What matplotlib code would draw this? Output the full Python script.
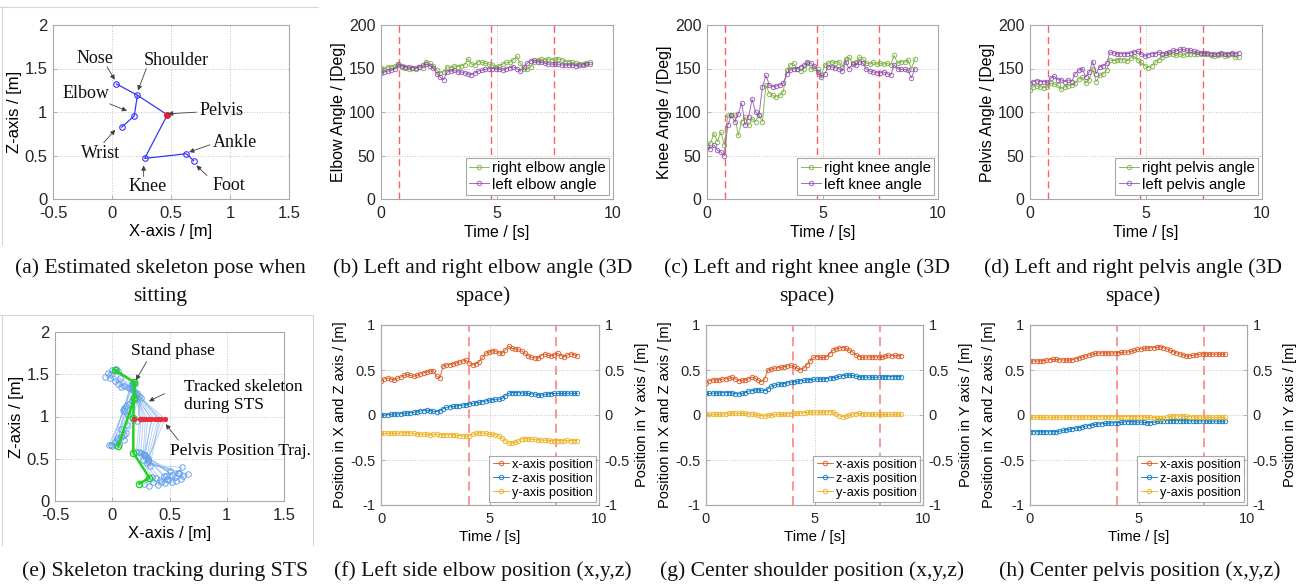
import numpy as np
import matplotlib
matplotlib.use('Agg')
import matplotlib.pyplot as plt
from matplotlib.ticker import FormatStrFormatter
from matplotlib.lines import Line2D

plt.rcParams['font.family'] = ['Liberation Sans', 'DejaVu Sans']
plt.rcParams['axes.unicode_minus'] = False
SERIF = 'Liberation Serif'

# ---------------- data ----------------
DT = 0.15  # sampling step of the time series [s]

# (a) sitting skeleton joints (x, z)
joint_names = ['Nose', 'Shoulder', 'Elbow', 'Wrist', 'Pelvis', 'Knee', 'Ankle', 'Foot']
sit_x = [0.037, 0.215, 0.189, 0.082, 0.469, 0.277, 0.630, 0.692]
sit_z = [1.323, 1.193, 0.956, 0.826, 0.967, 0.467, 0.520, 0.440]
ann_text_x = [-0.147, 0.545, -0.22, 0.93, -0.10, 1.04, 0.30, 0.99]
ann_text_z = [1.61, 1.59, 1.21, 1.02, 0.52, 0.65, 0.14, 0.16]
ann_tail_x = [-0.042, 0.291, -0.02, 0.715, -0.07, 0.83, 0.268, 0.805]
ann_tail_z = [1.52, 1.50, 1.094, 0.998, 0.65, 0.623, 0.26, 0.27]
ann_tip_x = [0.023, 0.22, 0.127, 0.475, 0.028, 0.653, 0.268, 0.715]
ann_tip_z = [1.37, 1.247, 1.013, 0.979, 0.795, 0.539, 0.386, 0.386]
ann_order = ['Nose', 'Shoulder', 'Elbow', 'Pelvis', 'Wrist', 'Ankle', 'Knee', 'Foot']

# (e) tracked skeleton frames during STS (one value per frame)
nose_x = [0.10, 0.08, 0.05, 0.02, -0.02, -0.06, -0.04, 0.00, 0.03, 0.05, 0.07, -0.01]
nose_z = [1.36, 1.35, 1.38, 1.42, 1.46, 1.47, 1.52, 1.55, 1.56, 1.54, 1.45, 1.50]
shoulder_x = [0.25, 0.23, 0.21, 0.19, 0.17, 0.16, 0.17, 0.18, 0.19, 0.20, 0.22, 0.15]
shoulder_z = [1.22, 1.24, 1.27, 1.30, 1.33, 1.36, 1.38, 1.40, 1.40, 1.39, 1.28, 1.34]
elbow_x = [0.22, 0.18, 0.14, 0.10, 0.09, 0.10, 0.12, 0.15, 0.17, 0.19, 0.13, 0.08]
elbow_z = [0.95, 0.98, 1.02, 1.06, 1.08, 1.10, 1.12, 1.15, 1.18, 1.20, 0.90, 0.85]
wrist_x = [0.12, 0.10, 0.08, 0.05, 0.02, -0.01, -0.03, 0.00, 0.03, 0.06, 0.10, 0.04]
wrist_z = [0.80, 0.78, 0.76, 0.72, 0.70, 0.66, 0.66, 0.65, 0.66, 0.68, 0.72, 0.74]
pelvis_x = [0.46, 0.43, 0.40, 0.37, 0.34, 0.31, 0.29, 0.27, 0.25, 0.24, 0.41, 0.35]
pelvis_z = [0.97, 0.97, 0.97, 0.97, 0.97, 0.97, 0.97, 0.97, 0.97, 0.97, 0.97, 0.97]
knee_x = [0.30, 0.31, 0.31, 0.30, 0.29, 0.28, 0.27, 0.25, 0.23, 0.21, 0.33, 0.27]
knee_z = [0.45, 0.47, 0.50, 0.52, 0.54, 0.55, 0.56, 0.57, 0.58, 0.58, 0.42, 0.49]
ankle_x = [0.66, 0.62, 0.58, 0.55, 0.52, 0.48, 0.45, 0.42, 0.38, 0.35, 0.61, 0.50]
ankle_z = [0.32, 0.30, 0.33, 0.28, 0.31, 0.26, 0.29, 0.25, 0.27, 0.28, 0.40, 0.35]
foot_x = [0.60, 0.56, 0.52, 0.49, 0.46, 0.43, 0.40, 0.36, 0.32, 0.28, 0.57, 0.47]
foot_z = [0.26, 0.24, 0.22, 0.25, 0.21, 0.23, 0.19, 0.22, 0.18, 0.20, 0.33, 0.29]
# stand phase skeleton (nose, shoulder, elbow, wrist, pelvis, knee, ankle, foot)
stand_x = [0.024, 0.193, 0.193, 0.053, 0.184, 0.184, 0.324, 0.236]
stand_z = [1.55, 1.405, 1.215, 0.655, 0.98, 0.57, 0.275, 0.205]
pelvis_traj_x = [0.186, 0.24, 0.25, 0.26, 0.27, 0.29, 0.31, 0.34, 0.37, 0.40, 0.43, 0.46]
pelvis_traj_z = [0.97, 0.97, 0.97, 0.97, 0.97, 0.97, 0.97, 0.97, 0.97, 0.97, 0.97, 0.97]

# (b) elbow angles [deg]
elbow_right = [151, 150, 152, 152, 153, 154, 152, 151, 150, 151,
               150, 152, 151, 158, 156, 153, 148, 145, 146, 152,
               151, 153, 152, 153, 154, 161, 155, 154, 158, 157,
               156, 155, 154, 152, 153, 155, 157, 157, 160, 164,
               156, 150, 149, 152, 158, 160, 161, 160, 161, 160,
               161, 161, 160, 158, 158, 157, 156, 155, 155, 156, 157]
elbow_left = [145, 146, 147, 148, 150, 155, 153, 152, 152, 151,
              151, 152, 154, 155, 153, 151, 144, 140, 137, 146,
              147, 148, 146, 146, 145, 144, 143, 145, 147, 148,
              149, 150, 150, 150, 149, 148, 150, 151, 152, 150,
              147, 152, 156, 159, 160, 158, 157, 156, 155, 155,
              155, 155, 154, 154, 154, 154, 153, 154, 154, 155, 155]
# (c) knee angles [deg]
knee_right = [62, 64, 75, 66, 77, 62, 96, 97, 96, 73,
              89, 94, 85, 92, 89, 96, 89, 131, 121, 119,
              117, 119, 123, 148, 154, 156, 150, 147, 150, 156,
              150, 151, 149, 142, 154, 156, 158, 156, 158, 152,
              161, 163, 156, 158, 163, 161, 156, 155, 157, 155,
              156, 155, 156, 154, 165, 156, 158, 157, 160, 150, 161]
knee_left = [60, 58, 62, 56, 54, 50, 85, 96, 89, 98,
             110, 85, 94, 115, 100, 96, 129, 142, 131, 129,
             130, 131, 133, 144, 148, 150, 150, 152, 154, 157,
             156, 153, 146, 140, 144, 152, 152, 151, 150, 147,
             158, 150, 155, 154, 158, 156, 149, 147, 146, 145,
             145, 146, 144, 142, 154, 150, 149, 149, 148, 139, 150]
# (d) pelvis angles [deg]
pelvis_right = [125, 129, 130, 129, 128, 129, 133, 132, 131, 126,
                129, 130, 131, 133, 138, 140, 133, 137, 150, 135,
                142, 144, 148, 160, 159, 160, 160, 160, 159, 162,
                164, 160, 157, 153, 151, 153, 157, 160, 163, 165,
                167, 167, 165, 167, 165, 167, 167, 167, 167, 167,
                167, 167, 165, 164, 165, 167, 164, 165, 167, 163, 163]
pelvis_left = [133, 135, 136, 135, 135, 134, 139, 141, 137, 137,
               135, 137, 135, 144, 148, 150, 140, 146, 158, 144,
               152, 153, 156, 169, 168, 167, 167, 167, 167, 168,
               169, 170, 167, 164, 166, 167, 167, 169, 167, 168,
               169, 171, 170, 172, 172, 171, 171, 170, 169, 168,
               168, 168, 167, 167, 167, 168, 167, 167, 168, 167, 168]

# (f) left side elbow position [m]
f_x = [.38, .40, .41, .40, .39, .41, .42, .44, .455, .44,
       .43, .44, .455, .47, .48, .49, .49, .43, .41, .55,
       .555, .56, .57, .58, .59, .60, .61, .58, .555, .57,
       .59, .64, .685, .70, .715, .71, .69, .685, .72, .765,
       .74, .735, .73, .71, .685, .66, .64, .635, .63, .66,
       .68, .665, .655, .67, .685, .66, .65, .665, .68, .67, .66]
f_z = [0.0, 0.0, .005, .008, .01, .012, .015, .02, .022, .025,
       .03, .035, .045, .05, .055, .05, .04, .037, .05, .07,
       .085, .09, .095, .10, .105, .11, .115, .12, .13, .135,
       .14, .15, .155, .165, .17, .175, .175, .185, .215, .24,
       .25, .25, .248, .245, .242, .24, .235, .232, .225, .22,
       .228, .235, .238, .24, .24, .24, .24, .242, .242, .24, .24]
f_y = [-.205, -.205, -.205, -.20, -.205, -.205, -.20, -.198, -.196, -.20,
       -.205, -.21, -.212, -.215, -.215, -.22, -.215, -.215, -.22, -.22,
       -.22, -.218, -.22, -.225, -.228, -.23, -.233, -.228, -.215, -.205,
       -.196, -.20, -.205, -.21, -.215, -.22, -.23, -.255, -.285, -.31,
       -.31, -.30, -.29, -.265, -.262, -.265, -.27, -.272, -.275, -.278,
       -.28, -.282, -.284, -.285, -.285, -.285, -.284, -.283, -.284, -.285, -.285]
# (g) center shoulder position [m]
g_x = [.36, .38, .39, .39, .39, .40, .40, .41, .42, .40,
       .38, .385, .39, .40, .42, .41, .39, .37, .40, .50,
       .51, .52, .525, .53, .537, .545, .555, .54, .52, .50,
       .52, .56, .60, .64, .65, .64, .64, .645, .68, .72,
       .735, .745, .75, .74, .72, .70, .67, .65, .64, .642,
       .645, .645, .648, .645, .64, .655, .665, .66, .662, .66, .66]
g_z = [.24, .24, .242, .245, .245, .248, .248, .25, .245, .238,
       .233, .24, .25, .265, .27, .278, .28, .275, .272, .29,
       .32, .33, .34, .345, .35, .358, .365, .37, .375, .38,
       .385, .39, .393, .396, .398, .40, .40, .405, .41, .415,
       .42, .43, .438, .444, .442, .44, .432, .426, .424, .422,
       .42, .42, .42, .42, .422, .424, .426, .426, .426, .426, .426]
g_y = [.007, .007, .008, .008, .01, .01, .012, .018, .02, .018,
       .018, .018, .018, .015, .012, .008, .0, -.008, -.012, -.005,
       .004, .006, .008, .008, .01, .012, .016, .018, .02, .024,
       .026, .028, .03, .03, .03, .032, .034, .035, .037, .035,
       .01, -.012, -.018, -.012, -.002, .01, .016, .018, .014, .012,
       .01, .008, .008, .006, .006, .006, .006, .007, .007, .007, .007]
# (h) center pelvis position [m]
h_x = [.60, .60, .60, .60, .605, .61, .615, .618, .618, .615,
       .612, .61, .61, .615, .625, .635, .645, .655, .665, .675,
       .685, .688, .69, .69, .69, .688, .69, .692, .695, .698,
       .70, .708, .718, .728, .735, .74, .745, .748, .75, .755,
       .76, .75, .735, .72, .705, .69, .68, .668, .658, .655,
       .662, .67, .675, .68, .678, .676, .676, .677, .676, .675, .674]
h_z = [-.185, -.185, -.186, -.186, -.186, -.186, -.186, -.185, -.185, -.18,
       -.172, -.165, -.158, -.152, -.146, -.14, -.132, -.125, -.118, -.11,
       -.104, -.10, -.097, -.094, -.091, -.088, -.086, -.084, -.08, -.076,
       -.074, -.074, -.076, -.078, -.08, -.082, -.085, -.085, -.08, -.072,
       -.065, -.063, -.062, -.062, -.062, -.063, -.063, -.063, -.064, -.064,
       -.065, -.065, -.066, -.066, -.066, -.067, -.067, -.067, -.067, -.067, -.067]
h_y = [-.026, -.026, -.026, -.026, -.026, -.025, -.025, -.025, -.024, -.024,
       -.024, -.024, -.024, -.023, -.023, -.022, -.022, -.022, -.021, -.021,
       -.021, -.02, -.02, -.02, -.019, -.019, -.018, -.018, -.018, -.018,
       -.018, -.018, -.019, -.02, -.021, -.022, -.024, -.026, -.03, -.036,
       -.037, -.032, -.024, -.016, -.012, -.01, -.012, -.014, -.016, -.018,
       -.02, -.021, -.022, -.023, -.024, -.025, -.025, -.026, -.026, -.026, -.026]

phase_top = [0.78, 4.75, 7.45]
phase_bottom = [4.02, 8.03]

# ---------------- layout helpers ----------------
W, H = 1303, 585
fig = plt.figure(figsize=(W / 100, H / 100), dpi=100)


def add_ax(l, t, r, b):
    return fig.add_axes([l / W, 1 - b / H, (r - l) / W, (b - t) / H])


SPINE = '#a8a8a8'


def style(ax, fs):
    for s in ax.spines.values():
        s.set_color(SPINE)
        s.set_linewidth(0.8)
    ax.tick_params(direction='in', length=3, width=0.6, color=SPINE,
                   labelsize=fs, labelcolor='#262626')
    ax.tick_params(axis='x', pad=5)
    ax.tick_params(axis='y', pad=4)
    ax.grid(True, linestyle=':', color='#c4c4c4', linewidth=0.7)
    ax.set_axisbelow(True)
    ax.xaxis.set_major_formatter(FormatStrFormatter('%g'))
    ax.yaxis.set_major_formatter(FormatStrFormatter('%g'))


def tt(y):
    return np.arange(len(y)) * DT


def legend(ax, fs):
    lg = ax.legend(loc='lower right', fontsize=fs, frameon=True, fancybox=False,
                   edgecolor=SPINE, framealpha=1, borderpad=0.25, handlelength=1.3,
                   handletextpad=0.2, labelspacing=0.15, borderaxespad=0.25)
    lg.get_frame().set_linewidth(0.8)
    return lg


# frames around (a) and (e)
FR = '#d6d6d6'
fig.add_artist(Line2D([0, 318 / W], [1 - 7 / H] * 2, color=FR, lw=0.8))
fig.add_artist(Line2D([2 / W] * 2, [1 - 7 / H, 1 - 245 / H], color=FR, lw=0.8))
fig.add_artist(Line2D([0, 313 / W], [1 - 315 / H] * 2, color=FR, lw=0.8))
fig.add_artist(Line2D([2 / W] * 2, [1 - 315 / H, 1 - 545 / H], color=FR, lw=0.8))
fig.add_artist(Line2D([313 / W] * 2, [1 - 315 / H, 1 - 545 / H], color=FR, lw=0.8))

# ---------------- (a) ----------------
ax = add_ax(53, 25, 289, 199)
style(ax, 12)
ax.set_xlim(-0.5, 1.5)
ax.set_ylim(0, 2)
ax.set_xticks([-0.5, 0, 0.5, 1, 1.5])
ax.set_yticks([0, 0.5, 1, 1.5, 2])
J = dict(zip(joint_names, zip(sit_x, sit_z)))
chains = [['Nose', 'Shoulder', 'Pelvis', 'Knee', 'Ankle', 'Foot'], ['Shoulder', 'Elbow', 'Wrist']]
for ch in chains:
    ax.plot([J[n][0] for n in ch], [J[n][1] for n in ch], '-', color='#3535ff', lw=0.9)
others = [n for n in joint_names if n != 'Pelvis']
ax.plot([J[n][0] for n in others], [J[n][1] for n in others], 'o', ls='none',
        mfc='none', mec='#3535ff', ms=4, mew=0.8)
ax.plot([J['Pelvis'][0]], [J['Pelvis'][1]], 'o', color='#e0202a', ms=4)
for i, name in enumerate(ann_order):
    ax.text(ann_text_x[i], ann_text_z[i], name, fontfamily=SERIF, fontsize=13,
            ha='center', va='center', color='#111111')
    ax.annotate('', xy=(ann_tip_x[i], ann_tip_z[i]), xytext=(ann_tail_x[i], ann_tail_z[i]),
                arrowprops=dict(arrowstyle='-|>', color='#404040', lw=0.6,
                                mutation_scale=7, shrinkA=0, shrinkB=0))
ax.set_xlabel('X-axis / [m]', fontsize=12, labelpad=2)
ax.set_ylabel('Z-axis / [m]', fontsize=12, labelpad=2)

# ---------------- (b)-(d) ----------------
GREEN = '#7cb342'
PURPLE = '#8e44ad'
top_specs = [
    ((381, 25, 613, 199), elbow_right, elbow_left, 'Elbow Angle / [Deg]',
     'right elbow angle', 'left elbow angle'),
    ((707, 25, 938, 199), knee_right, knee_left, 'Knee Angle / [Deg]',
     'right knee angle', 'left knee angle'),
    ((1030, 25, 1262, 199), pelvis_right, pelvis_left, 'Pelvis Angle / [Deg]',
     'right pelvis angle', 'left pelvis angle'),
]
for box, yr, yl, ylab, lr, ll in top_specs:
    ax = add_ax(*box)
    style(ax, 11.5)
    ax.set_xlim(0, 10)
    ax.set_ylim(0, 200)
    ax.set_xticks([0, 5, 10])
    ax.set_yticks([0, 50, 100, 150, 200])
    for xv in phase_top:
        ax.axvline(xv, color='#ff4d4d', lw=1.0, ls=(0, (5, 3)), alpha=0.9)
    ax.plot(tt(yr), yr, '-o', color=GREEN, mfc='none', ms=3.2, mew=0.7, lw=0.7, label=lr, alpha=0.9)
    ax.plot(tt(yl), yl, '-o', color=PURPLE, mfc='none', ms=3.2, mew=0.7, lw=0.7, label=ll, alpha=0.8)
    ax.set_xlabel('Time / [s]', fontsize=11.5, labelpad=3)
    ax.set_ylabel(ylab, fontsize=11.5, labelpad=2)
    legend(ax, 10.8)

# ---------------- (e) ----------------
ax = add_ax(55, 332, 284, 501)
style(ax, 12)
ax.set_xlim(-0.5, 1.5)
ax.set_ylim(0, 2)
ax.set_xticks([-0.5, 0, 0.5, 1, 1.5])
ax.set_yticks([0, 0.5, 1, 1.5, 2])
frames = list(zip(nose_x, nose_z, shoulder_x, shoulder_z, elbow_x, elbow_z, wrist_x, wrist_z,
                  pelvis_x, pelvis_z, knee_x, knee_z, ankle_x, ankle_z, foot_x, foot_z))
BLUE_L = '#5b9bea'
for fr in frames:
    px = fr[0::2]
    pz = fr[1::2]
    # order: 0 nose 1 shoulder 2 elbow 3 wrist 4 pelvis 5 knee 6 ankle 7 foot
    for ch in ([0, 1, 4, 5, 6, 7], [1, 2, 3]):
        ax.plot([px[k] for k in ch], [pz[k] for k in ch], '-', color=BLUE_L, lw=0.6, alpha=0.5)
    idx = [0, 1, 2, 3, 5, 6, 7]
    ax.plot([px[k] for k in idx], [pz[k] for k in idx], 'o', ls='none', mfc='none',
            mec=BLUE_L, ms=4, mew=0.7, alpha=0.9)
for ch in ([0, 1, 4, 5, 6, 7], [1, 2, 3]):
    ax.plot([stand_x[k] for k in ch], [stand_z[k] for k in ch], '-', color='#1fd21f', lw=1.8)
ax.plot(stand_x, stand_z, 'o', ls='none', mfc='none', mec='#1fd21f', ms=4.5, mew=1.0)
ax.plot(pelvis_traj_x, pelvis_traj_z, '-o', color='#e8303a', ms=2.8, lw=0.7)
AP = dict(arrowstyle='-|>', color='#404040', lw=0.6, mutation_scale=7, shrinkA=0, shrinkB=0)
ax.text(0.53, 1.77, 'Stand phase', fontfamily=SERIF, fontsize=12.5, ha='center', va='center')
ax.annotate('', xy=(0.207, 1.43), xytext=(0.30, 1.65), arrowprops=AP)
ax.text(0.63, 1.24, 'Tracked skeleton\nduring STS', fontfamily=SERIF, fontsize=12.5,
        ha='left', va='center', linespacing=1.15)
ax.annotate('', xy=(0.32, 1.18), xytext=(0.455, 1.27), arrowprops=AP)
ax.text(0.504, 0.595, 'Pelvis Position Traj.', fontfamily=SERIF, fontsize=12.5, ha='left', va='center')
ax.annotate('', xy=(0.467, 0.91), xytext=(0.577, 0.72), arrowprops=AP)
ax.set_xlabel('X-axis / [m]', fontsize=12, labelpad=2)
ax.set_ylabel('Z-axis / [m]', fontsize=12, labelpad=2)

# ---------------- (f)-(h) ----------------
ORANGE = '#D95319'
BLUE = '#0072BD'
YELLOW = '#EDB120'
bot_specs = [
    ((381, 325, 599, 505), f_x, f_z, f_y),
    ((706, 325, 923, 505), g_x, g_z, g_y),
    ((1030, 325, 1247, 505), h_x, h_z, h_y),
]
for box, yx, yz, yy in bot_specs:
    ax = add_ax(*box)
    style(ax, 10.5)
    ax.set_xlim(0, 10)
    ax.set_ylim(-1, 1)
    ax.set_xticks([0, 5, 10])
    ax.set_yticks([-1, -0.5, 0, 0.5, 1])
    for xv in phase_bottom:
        ax.axvline(xv, color='#ff7070', lw=1.3, ls=(0, (5, 3)), alpha=0.8)
    ax.plot(tt(yx), yx, '-o', color=ORANGE, mfc='none', ms=3.2, mew=0.7, lw=0.7,
            alpha=0.85, label='x-axis position')
    ax.plot(tt(yz), yz, '-o', color=BLUE, mfc='none', ms=3.2, mew=0.7, lw=0.7,
            alpha=0.85, label='z-axis position')
    ax.plot(tt(yy), yy, '-o', color=YELLOW, mfc='none', ms=3.2, mew=0.7, lw=0.7,
            alpha=0.9, label='y-axis position')
    ax.set_xlabel('Time / [s]', fontsize=10.8, labelpad=3)
    ax.set_ylabel('Position in X and Z axis / [m]', fontsize=10.5, labelpad=2)
    legend(ax, 9.2)
    ax2 = ax.twinx()
    ax2.set_ylim(-1, 1)
    ax2.set_yticks([-1, -0.5, 0, 0.5, 1])
    for s in ax2.spines.values():
        s.set_color(SPINE)
        s.set_linewidth(0.8)
    ax2.tick_params(direction='in', length=3, width=0.6, color=SPINE,
                    labelsize=10.5, labelcolor='#262626', pad=4)
    ax2.yaxis.set_major_formatter(FormatStrFormatter('%g'))
    ax2.set_ylabel('Position in Y axis / [m]', fontsize=10.5, labelpad=4)

# ---------------- captions ----------------
CAP = 15.6
captions = [
    (160, 268, '(a) Estimated skeleton pose when'), (160, 296, 'sitting'),
    (483, 268, '(b) Left and right elbow angle (3D'), (483, 296, 'space)'),
    (807, 268, '(c) Left and right knee angle (3D'), (807, 296, 'space)'),
    (1133, 268, '(d) Left and right pelvis angle (3D'), (1133, 296, 'space)'),
    (165, 571, '(e) Skeleton tracking during STS'),
    (483, 571, '(f) Left side elbow position (x,y,z)'),
    (812, 571, '(g) Center shoulder position (x,y,z)'),
    (1140, 571, '(h) Center pelvis position (x,y,z)'),
]
for x, y, s in captions:
    fig.text(x / W, 1 - y / H, s, fontfamily=SERIF, fontsize=CAP, ha='center', va='center',
             color='#111111')

fig.savefig('out.png', dpi=100)
